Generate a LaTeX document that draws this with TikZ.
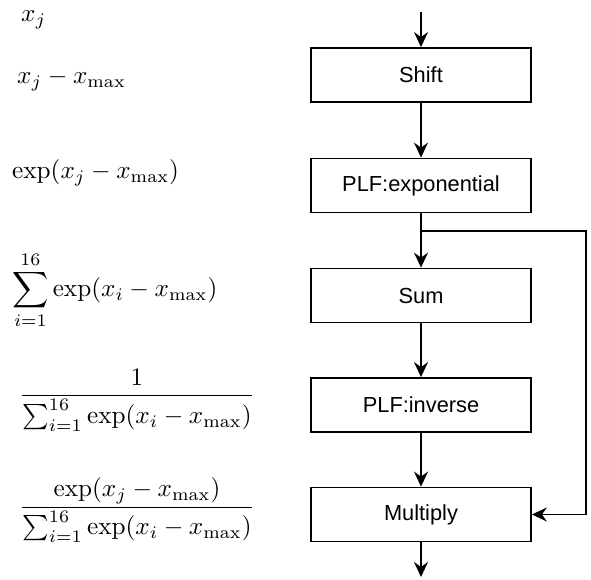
\documentclass[tikz,border=0pt]{standalone}
\usepackage{graphicx}
\usepackage{fontspec}
\setsansfont{Liberation Sans}
\usetikzlibrary{arrows.meta}
\newcommand{\bigeq}[1]{\scalebox{2.52}{$#1$}}
\begin{document}
\begin{tikzpicture}[x=1pt,y=-1pt,
  stage/.style={draw,line width=1.8pt,minimum width=220pt,minimum height=54pt,
    inner sep=0pt,font=\sffamily\fontsize{21.8}{26}\selectfont},
  flow/.style={line width=1.8pt,line join=miter,
    -{Stealth[length=15pt,width=14pt,inset=5pt]}},
  eq/.style={inner sep=0pt}]
\useasboundingbox (0,0) rectangle (591,580);

% processing stages
\node[stage] (shift) at (421,75)    {Shift};
\node[stage] (expo)  at (421,185.5) {PLF:exponential};
\node[stage] (sum)   at (421,295.5) {Sum};
\node[stage] (inv)   at (421,405)   {PLF:inverse};
\node[stage] (mul)   at (421,514.5) {Multiply};

% free ends and the bypass route
\coordinate (in)    at (421,12);
\coordinate (out)   at (421,577);
\coordinate (split) at (421,231);
\coordinate (loopR) at (586,231);

\draw[flow] (in) -- (shift);
\draw[flow] (shift) -- (expo);
\draw[flow] (expo) -- (sum);
\draw[flow] (sum) -- (inv);
\draw[flow] (inv) -- (mul);
\draw[flow] (mul) -- (out);
\draw[flow] (split) -- (loopR) |- (mul.east);

% intermediate values
\node[eq,anchor=west] (v0) at (21,20)  {\bigeq{x_j}};
\node[eq,anchor=west] (v1) at (17,80)  {\bigeq{x_j - x_{\max}}};
\node[eq,anchor=west] (v2) at (12,173) {\bigeq{\exp(x_j - x_{\max})}};
\node[eq,anchor=west] (v3) at (12,290) {\bigeq{\displaystyle\sum_{i=1}^{16}\exp(x_i - x_{\max})}};
\node[eq] (v4) at (137,400) {\bigeq{\displaystyle\frac{1}{\sum_{i=1}^{16}\exp(x_i - x_{\max})}}};
\node[eq] (v5) at (137,510) {\bigeq{\displaystyle\frac{\exp(x_j - x_{\max})}{\sum_{i=1}^{16}\exp(x_i - x_{\max})}}};
\end{tikzpicture}
\end{document}
